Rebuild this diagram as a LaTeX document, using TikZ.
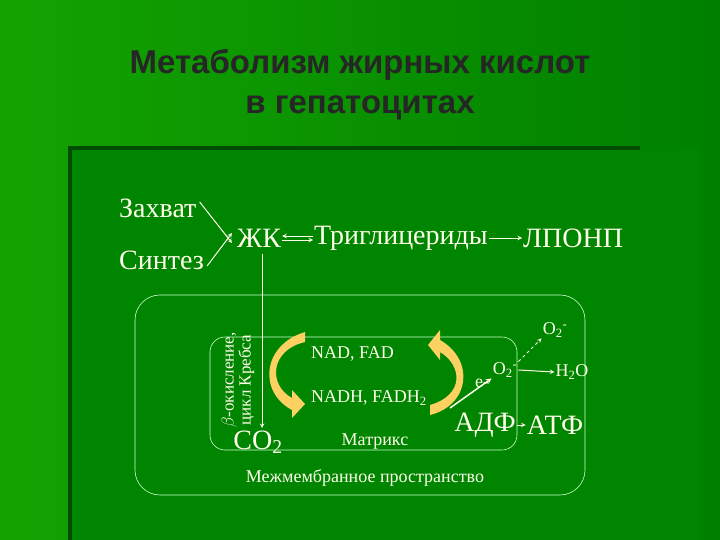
\documentclass[tikz,border=0pt]{standalone}
\usepackage{fontspec}
\setmainfont{Liberation Serif}
\newfontfamily\titlefont{Liberation Sans}
\begin{document}
\begin{tikzpicture}[x=1pt,y=-1pt,
  every node/.style={text=white!92!yellow,inner sep=1pt},
  big/.style={font=\fontsize{28}{30}\selectfont},
  mid/.style={font=\fontsize{18}{20}\selectfont},
  sm/.style={font=\fontsize{17}{17}\selectfont},
  arr/.style={draw=white!92!yellow,line width=1pt,-stealth},
  cyc/.style={fill=yellow!45!orange!60!white,draw=none}]
\useasboundingbox (0,0) rectangle (720,540);
\fill[left color=green!60!black!90!lime, right color=green!50!black] (0,0) rectangle (720,540);
\fill[green!52!black] (68,146) rectangle (720,540);
\fill[green!30!black] (68,146) rectangle (640,150);
\fill[green!30!black] (68,146) rectangle (72,540);
\fill[green!50!black] (700,146) rectangle (720,540);
\node[text=black!85,font=\titlefont\bfseries\fontsize{33}{40}\selectfont,align=center] (title) at (360,85) {Метаболизм жирных кислот\\в гепатоцитах};
% outer & inner boxes
\draw[white!80!green,line width=0.6pt,rounded corners=25pt] (135,295) rectangle (585,495);
\draw[white!80!green,line width=0.6pt,rounded corners=15pt] (210,337) rectangle (517,450);
\node[big,anchor=west] (zah) at (118,208) {Захват};
\node[big,anchor=west] (sin) at (118,260) {Синтез};
\node[big,anchor=west] (zk) at (236,238) {ЖК};
\node[big,anchor=west] (tg) at (313,238) {Триглицериды};
\node[big,anchor=west] (lp) at (522,238) {ЛПОНП};
\draw[arr] ([xshift=2,yshift=6]zah.east) -- ([xshift=-4,yshift=-5]zk.west);
\draw[arr] ([xshift=2,yshift=-6]sin.east) -- ([xshift=-4,yshift=5]zk.west);
\draw[arr] ([yshift=-2]zk.east) -- ([yshift=-2]tg.west);
\draw[arr] ([yshift=2]tg.west) -- ([yshift=2]zk.east);
\draw[arr] (tg.east) -- (lp.west);
\node[big] (co2) at (258,442) {CO\textsubscript{2}};
\coordinate (zkb) at (262,254);
\draw[arr] (zkb) -- (262,428);
\node[sm,rotate=90,align=center] (beta) at (238,380) {$\beta$-окисление,\\цикл Кребса};
\node[mid] (mat) at (375,442) {Матрикс};
\node[mid] (mm) at (365,478) {Межмембранное пространство};
\node[mid,anchor=west] (nad) at (310,354) {NAD, FAD};
\node[mid,anchor=west] (nadh) at (310,398) {NADH, FADH\textsubscript{2}};
% cycle arrows
\fill[cyc] (305,342) .. controls (270,350) and (268,385) .. (292,398) -- (292,390) -- (305,404) -- (292,418) -- (292,410) .. controls (258,392) and (262,345) .. (305,332) -- cycle;
\fill[cyc] (430,405) .. controls (465,395) and (462,365) .. (440,352) -- (440,360) -- (428,345) -- (440,330) -- (440,340) .. controls (475,360) and (470,405) .. (430,415) -- cycle;
\node[mid] (o2) at (505,370) {O\textsubscript{2}\textsuperscript{-}};
\node[mid] (o2t) at (555,330) {O\textsubscript{2}\textsuperscript{-}};
\node[mid] (h2o) at (572,372) {H\textsubscript{2}O};
\node[big] (adf) at (485,425) {АДФ};
\node[big] (atf) at (555,425) {АТФ};
\coordinate (ecs) at (450,408);
\draw[arr,line width=1.5pt] (ecs) -- (o2.south west);
\node[mid] (e) at (482,383) {e-};
\draw[arr,dashed] (o2.north east) -- (o2t.south west);
\draw[arr] (o2.east) -- (h2o.west);
\draw[arr] (adf.east) -- (atf.west);
\end{tikzpicture}
\end{document}
